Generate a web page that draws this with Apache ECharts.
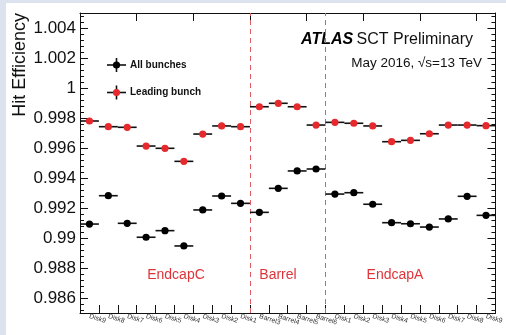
<!DOCTYPE html>
<html>
<head>
<meta charset="utf-8">
<script src="https://cdn.jsdelivr.net/npm/echarts@6/dist/echarts.min.js"></script>
<style>
html,body{margin:0;padding:0;background:#fff;}
#chart{width:506px;height:335px;}
</style>
</head>
<body>
<div id="chart"></div>
<script>
// ---- data ----
var categories = ['Disk9','Disk8','Disk7','Disk6','Disk5','Disk4','Disk3','Disk2','Disk1',
                  'Barrel3','Barrel4','Barrel5','Barrel6',
                  'Disk1','Disk2','Disk3','Disk4','Disk5','Disk6','Disk7','Disk8','Disk9'];
var regionNames = ['EndcapC', 'Barrel', 'EndcapA'];
var regionSizes = [9, 4, 9];
var allBunches = [0.99093, 0.99282, 0.99098, 0.99005, 0.99049, 0.98947, 0.99187, 0.99280, 0.99231,
                  0.99171, 0.99331, 0.99447, 0.99460,
                  0.99293, 0.99302, 0.99225, 0.99102, 0.99095, 0.99073, 0.99127, 0.99278, 0.99151];
var leadingBunch = [0.99780, 0.99742, 0.99738, 0.99613, 0.99598, 0.99511, 0.99693, 0.99747, 0.99742,
                    0.99875, 0.99898, 0.99875, 0.99753,
                    0.99771, 0.99765, 0.99747, 0.99642, 0.99651, 0.99695, 0.99753, 0.99753, 0.99749];
var yMin = 0.985, yMax = 1.005;

var FONT = '"Liberation Sans", Arial, Helvetica, sans-serif';
var RED = '#e5292d';

function toPairs(arr){ return arr.map(function(v,i){ return [i, v]; }); }

function makeRender(color){
  return function(params, api){
    var c = api.coord([api.value(0), api.value(1)]);
    var w = api.size([1, 0])[0];
    return {type:'group', children:[
      {type:'line', shape:{x1:c[0]-w/2, y1:c[1], x2:c[0]+w/2, y2:c[1]},
       style:{stroke:'#111', lineWidth:1.6}},
      {type:'circle', shape:{cx:c[0], cy:c[1], r:3.6}, style:{fill:color}}
    ]};
  };
}

var boundaries = [];
var acc = 0;
for (var i = 0; i < regionSizes.length - 1; i++) { acc += regionSizes[i]; boundaries.push({xAxis: acc}); }

var chart = echarts.init(document.getElementById('chart'), null, {renderer:'canvas'});

var yCommon = {
  type:'value', min:yMin, max:yMax, splitNumber:10,
  axisLine:{show:true, lineStyle:{color:'#111', width:1}},
  axisTick:{show:true, inside:true, length:8, lineStyle:{color:'#111'}},
  minorTick:{show:true, splitNumber:5, length:4, lineStyle:{color:'#111'}},
  splitLine:{show:false}
};

var option = {
  backgroundColor:'#ffffff',
  animation:false,
  grid:{left:80, right:6, top:13, bottom:22},
  xAxis:[
    {type:'category', data:categories, position:'bottom', boundaryGap:true,
     axisLine:{lineStyle:{color:'#111', width:1}},
     axisTick:{show:true, inside:true, length:8, lineStyle:{color:'#111'}},
     axisLabel:{show:true, interval:0, rotate:-18, fontSize:6.8, color:'#333', margin:3, fontFamily:FONT},
     splitLine:{show:false}},
    {type:'category', data:categories, position:'top', boundaryGap:true,
     axisLine:{lineStyle:{color:'#111', width:1}},
     axisTick:{show:true, inside:true, length:8, lineStyle:{color:'#111'}},
     axisLabel:{show:false}, splitLine:{show:false}},
    {type:'value', min:0, max:categories.length, show:false}
  ],
  yAxis:[
    Object.assign({}, yCommon, {position:'left',
      axisLabel:{show:true, showMinLabel:false, showMaxLabel:false, fontSize:17, color:'#111', margin:4, fontFamily:FONT}}),
    Object.assign({}, yCommon, {position:'right', axisLabel:{show:false}})
  ],
  series:[
    {name:'All bunches', type:'custom', xAxisIndex:0, yAxisIndex:0,
     renderItem:makeRender('#000'), data:toPairs(allBunches), z:5},
    {name:'Leading bunch', type:'custom', xAxisIndex:0, yAxisIndex:0,
     renderItem:makeRender(RED), data:toPairs(leadingBunch), z:5},
    {name:'boundaries', type:'line', xAxisIndex:2, yAxisIndex:0, data:[], silent:true,
     markLine:{symbol:'none', silent:true, label:{show:false},
       lineStyle:{color:'#e45a62', type:[5,4], width:1},
       data:boundaries}}
  ],
  graphic:[
    // blue frame strips
    {type:'rect', left:0, top:0, shape:{width:506, height:3}, style:{fill:'#dce3ef'}, z:-10},
    {type:'rect', left:0, top:0, shape:{width:6, height:335}, style:{fill:'#dce3ef'}, z:-10},
    // y axis title
    {type:'text', x:20, y:13, rotation:Math.PI/2,
     style:{text:'Hit Efficiency', fill:'#111', font:'18px '+FONT, textAlign:'right', textVerticalAlign:'middle'}},
    // ATLAS label
    {type:'text', x:473, y:48,
     style:{rich:{a:{font:'italic bold 16px '+FONT, fill:'#000'}, b:{font:'16px '+FONT, fill:'#111'}},
            text:'{a|ATLAS} {b|SCT Preliminary}', textAlign:'right', textVerticalAlign:'bottom'}},
    {type:'text', x:482, y:63,
     style:{text:'May 2016, \u221As=13 TeV', font:'13.5px '+FONT, fill:'#111', textAlign:'right', textVerticalAlign:'middle'}},
    // legend
    {type:'line', shape:{x1:107, y1:65, x2:126, y2:65}, style:{stroke:'#111', lineWidth:1.6}},
    {type:'line', shape:{x1:116.5, y1:58, x2:116.5, y2:72}, style:{stroke:'#111', lineWidth:1.6}},
    {type:'circle', shape:{cx:116.5, cy:65, r:3.6}, style:{fill:'#000'}},
    {type:'text', x:130, y:65, style:{text:'All bunches', font:'bold 10px '+FONT, fill:'#111', textVerticalAlign:'middle'}},
    {type:'line', shape:{x1:107, y1:92.5, x2:126, y2:92.5}, style:{stroke:'#111', lineWidth:1.6}},
    {type:'line', shape:{x1:116.5, y1:85.5, x2:116.5, y2:99.5}, style:{stroke:'#111', lineWidth:1.6}},
    {type:'circle', shape:{cx:116.5, cy:92.5, r:3.6}, style:{fill:RED}},
    {type:'text', x:130, y:92.5, style:{text:'Leading bunch', font:'bold 10px '+FONT, fill:'#111', textVerticalAlign:'middle'}},
    // region labels
    {type:'text', x:176, y:275, style:{text:regionNames[0], font:'14px '+FONT, fill:'#e0343a', textAlign:'center', textVerticalAlign:'middle'}},
    {type:'text', x:278, y:275, style:{text:regionNames[1], font:'14px '+FONT, fill:'#e0343a', textAlign:'center', textVerticalAlign:'middle'}},
    {type:'text', x:395, y:275, style:{text:regionNames[2], font:'14px '+FONT, fill:'#e0343a', textAlign:'center', textVerticalAlign:'middle'}}
  ]
};
chart.setOption(option);
</script>
</body>
</html>
